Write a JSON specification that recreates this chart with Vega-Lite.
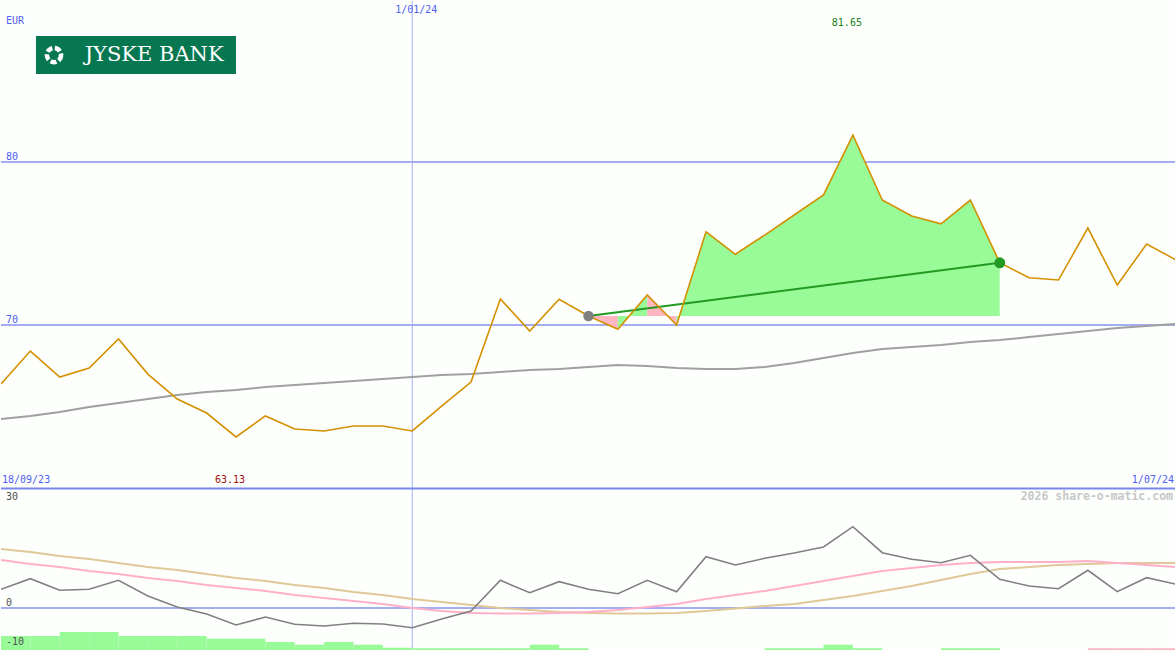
{
  "$schema": "https://vega.github.io/schema/vega-lite/v6.json",
  "background": "#fcfffc",
  "padding": 0,
  "spacing": 0,
  "bounds": "flush",
  "config": {"view": {"stroke": null}, "axis": {"disable": true}, "legend": {"disable": true}},
  "datasets": {
    "weekly": [
      {"d": "2023-09-25", "price": 66.38, "ma": 64.23, "osc": 4.79, "sig": 12.31, "slow": 15.13},
      {"d": "2023-10-02", "price": 68.40, "ma": 64.42, "osc": 7.51, "sig": 11.28, "slow": 14.36},
      {"d": "2023-10-09", "price": 66.81, "ma": 64.66, "osc": 4.54, "sig": 10.51, "slow": 13.33},
      {"d": "2023-10-16", "price": 67.36, "ma": 64.97, "osc": 4.79, "sig": 9.49, "slow": 12.56},
      {"d": "2023-10-23", "price": 69.14, "ma": 65.21, "osc": 7.10, "sig": 8.72, "slow": 11.54},
      {"d": "2023-10-30", "price": 66.99, "ma": 65.46, "osc": 3.08, "sig": 7.69, "slow": 10.51},
      {"d": "2023-11-06", "price": 65.46, "ma": 65.71, "osc": 0.26, "sig": 6.92, "slow": 9.74},
      {"d": "2023-11-13", "price": 64.60, "ma": 65.89, "osc": -1.54, "sig": 5.90, "slow": 8.72},
      {"d": "2023-11-20", "price": 63.13, "ma": 66.01, "osc": -4.36, "sig": 5.13, "slow": 7.69},
      {"d": "2023-11-27", "price": 64.42, "ma": 66.20, "osc": -2.31, "sig": 4.36, "slow": 6.92},
      {"d": "2023-12-04", "price": 63.62, "ma": 66.32, "osc": -4.18, "sig": 3.33, "slow": 5.90},
      {"d": "2023-12-11", "price": 63.50, "ma": 66.44, "osc": -4.62, "sig": 2.56, "slow": 5.13},
      {"d": "2023-12-18", "price": 63.80, "ma": 66.56, "osc": -3.92, "sig": 1.79, "slow": 4.10},
      {"d": "2023-12-25", "price": 63.80, "ma": 66.69, "osc": -4.10, "sig": 1.03, "slow": 3.33},
      {"d": "2024-01-01", "price": 63.50, "ma": 66.81, "osc": -5.05, "sig": 0.00, "slow": 2.31},
      {"d": "2024-01-08", "price": 65.03, "ma": 66.93, "osc": -2.82, "sig": -0.77, "slow": 1.54},
      {"d": "2024-01-15", "price": 66.50, "ma": 66.99, "osc": -0.77, "sig": -1.28, "slow": 0.77},
      {"d": "2024-01-22", "price": 71.60, "ma": 67.12, "osc": 7.10, "sig": -1.41, "slow": 0.00},
      {"d": "2024-01-29", "price": 69.63, "ma": 67.24, "osc": 3.92, "sig": -1.41, "slow": -0.51},
      {"d": "2024-02-05", "price": 71.58, "ma": 67.30, "osc": 6.74, "sig": -1.28, "slow": -1.03},
      {"d": "2024-02-12", "price": 70.55, "ma": 67.42, "osc": 4.79, "sig": -1.03, "slow": -1.28},
      {"d": "2024-02-19", "price": 69.74, "ma": 67.55, "osc": 3.67, "sig": -0.51, "slow": -1.41},
      {"d": "2024-02-26", "price": 71.84, "ma": 67.48, "osc": 7.10, "sig": 0.26, "slow": -1.41},
      {"d": "2024-03-04", "price": 70.00, "ma": 67.36, "osc": 4.18, "sig": 1.03, "slow": -1.28},
      {"d": "2024-03-11", "price": 75.72, "ma": 67.30, "osc": 13.15, "sig": 2.31, "slow": -0.77},
      {"d": "2024-03-18", "price": 74.34, "ma": 67.30, "osc": 11.03, "sig": 3.33, "slow": -0.13},
      {"d": "2024-03-25", "price": 75.52, "ma": 67.42, "osc": 12.74, "sig": 4.36, "slow": 0.51},
      {"d": "2024-04-01", "price": 76.75, "ma": 67.67, "osc": 14.10, "sig": 5.64, "slow": 1.03},
      {"d": "2024-04-08", "price": 77.98, "ma": 67.98, "osc": 15.64, "sig": 6.92, "slow": 2.05},
      {"d": "2024-04-15", "price": 81.65, "ma": 68.28, "osc": 20.85, "sig": 8.21, "slow": 3.08},
      {"d": "2024-04-22", "price": 77.67, "ma": 68.53, "osc": 14.18, "sig": 9.49, "slow": 4.36},
      {"d": "2024-04-29", "price": 76.69, "ma": 68.65, "osc": 12.49, "sig": 10.26, "slow": 5.64},
      {"d": "2024-05-06", "price": 76.21, "ma": 68.77, "osc": 11.62, "sig": 11.03, "slow": 7.18},
      {"d": "2024-05-13", "price": 77.67, "ma": 68.96, "osc": 13.51, "sig": 11.54, "slow": 8.72},
      {"d": "2024-05-20", "price": 73.82, "ma": 69.08, "osc": 7.36, "sig": 11.79, "slow": 10.00},
      {"d": "2024-05-27", "price": 72.90, "ma": 69.26, "osc": 5.64, "sig": 11.79, "slow": 10.51},
      {"d": "2024-06-03", "price": 72.76, "ma": 69.45, "osc": 4.95, "sig": 11.79, "slow": 11.03},
      {"d": "2024-06-10", "price": 75.95, "ma": 69.63, "osc": 9.67, "sig": 12.05, "slow": 11.28},
      {"d": "2024-06-17", "price": 72.45, "ma": 69.82, "osc": 4.18, "sig": 11.54, "slow": 11.54},
      {"d": "2024-06-24", "price": 74.97, "ma": 69.94, "osc": 7.77, "sig": 11.03, "slow": 11.54},
      {"d": "2024-07-01", "price": 73.99, "ma": 70.06, "osc": 6.08, "sig": 10.51, "slow": 11.54}
    ],
    "fill": [
      {"seg": "s1", "c": "down", "d": "2024-02-12", "price": 70.55},
      {"seg": "s1", "c": "down", "d": "2024-02-19", "price": 69.74},
      {"seg": "s2", "c": "up", "d": "2024-02-19", "price": 69.74},
      {"seg": "s2", "c": "up", "d": "2024-02-26", "price": 71.84},
      {"seg": "s3", "c": "down", "d": "2024-02-26", "price": 71.84},
      {"seg": "s3", "c": "down", "d": "2024-03-04", "price": 70.00},
      {"seg": "s4", "c": "up", "d": "2024-03-04", "price": 70.00},
      {"seg": "s4", "c": "up", "d": "2024-03-11", "price": 75.72},
      {"seg": "s4", "c": "up", "d": "2024-03-18", "price": 74.34},
      {"seg": "s4", "c": "up", "d": "2024-03-25", "price": 75.52},
      {"seg": "s4", "c": "up", "d": "2024-04-01", "price": 76.75},
      {"seg": "s4", "c": "up", "d": "2024-04-08", "price": 77.98},
      {"seg": "s4", "c": "up", "d": "2024-04-15", "price": 81.65},
      {"seg": "s4", "c": "up", "d": "2024-04-22", "price": 77.67},
      {"seg": "s4", "c": "up", "d": "2024-04-29", "price": 76.69},
      {"seg": "s4", "c": "up", "d": "2024-05-06", "price": 76.21},
      {"seg": "s4", "c": "up", "d": "2024-05-13", "price": 77.67},
      {"seg": "s4", "c": "up", "d": "2024-05-20", "price": 73.82}
    ],
    "trend": [
      {"d": "2024-02-12", "price": 70.55, "kind": "start"},
      {"d": "2024-05-20", "price": 73.82, "kind": "end"}
    ],
    "hist": [
      {"d": "2023-09-25", "d2": "2023-10-02", "h": -7.18, "c": "up"},
      {"d": "2023-10-02", "d2": "2023-10-09", "h": -7.18, "c": "up"},
      {"d": "2023-10-09", "d2": "2023-10-16", "h": -6.15, "c": "up"},
      {"d": "2023-10-16", "d2": "2023-10-23", "h": -6.15, "c": "up"},
      {"d": "2023-10-23", "d2": "2023-10-30", "h": -7.18, "c": "up"},
      {"d": "2023-10-30", "d2": "2023-11-06", "h": -7.18, "c": "up"},
      {"d": "2023-11-06", "d2": "2023-11-13", "h": -7.18, "c": "up"},
      {"d": "2023-11-13", "d2": "2023-11-20", "h": -7.87, "c": "up"},
      {"d": "2023-11-20", "d2": "2023-11-27", "h": -7.87, "c": "up"},
      {"d": "2023-11-27", "d2": "2023-12-04", "h": -8.72, "c": "up"},
      {"d": "2023-12-04", "d2": "2023-12-11", "h": -9.41, "c": "up"},
      {"d": "2023-12-11", "d2": "2023-12-18", "h": -8.72, "c": "up"},
      {"d": "2023-12-18", "d2": "2023-12-25", "h": -9.41, "c": "up"},
      {"d": "2023-12-25", "d2": "2024-01-01", "h": -10.2, "c": "up"},
      {"d": "2024-01-01", "d2": "2024-01-08", "h": -10.33, "c": "up"},
      {"d": "2024-01-08", "d2": "2024-01-15", "h": -10.33, "c": "up"},
      {"d": "2024-01-15", "d2": "2024-01-22", "h": -10.33, "c": "up"},
      {"d": "2024-01-22", "d2": "2024-01-29", "h": -10.33, "c": "up"},
      {"d": "2024-01-29", "d2": "2024-02-05", "h": -9.41, "c": "up"},
      {"d": "2024-02-05", "d2": "2024-02-12", "h": -10.33, "c": "up"},
      {"d": "2024-03-25", "d2": "2024-04-01", "h": -10.33, "c": "up"},
      {"d": "2024-04-01", "d2": "2024-04-08", "h": -10.33, "c": "up"},
      {"d": "2024-04-08", "d2": "2024-04-15", "h": -9.41, "c": "up"},
      {"d": "2024-04-15", "d2": "2024-04-22", "h": -10.33, "c": "up"},
      {"d": "2024-05-06", "d2": "2024-05-13", "h": -10.33, "c": "up"},
      {"d": "2024-05-13", "d2": "2024-05-20", "h": -10.33, "c": "up"},
      {"d": "2024-06-10", "d2": "2024-06-17", "h": -10.33, "c": "down"},
      {"d": "2024-06-17", "d2": "2024-06-24", "h": -10.33, "c": "down"},
      {"d": "2024-06-24", "d2": "2024-07-01", "h": -10.33, "c": "down"}
    ]
  },
  "vconcat": [
    {
      "width": 1175,
      "height": 487,
      "layer": [
        {"data": {"values": [{}]}, "mark": {"type": "rule", "color": "#a4acf2", "strokeWidth": 2},
         "encoding": {"y": {"datum": 80, "type": "quantitative", "scale": {"domain": [60, 89.88], "nice": false, "zero": false}}}},
        {"data": {"values": [{}]}, "mark": {"type": "rule", "color": "#a4acf2", "strokeWidth": 2},
         "encoding": {"y": {"datum": 70, "type": "quantitative", "scale": {"domain": [60, 89.88], "nice": false, "zero": false}}}},
        {"data": {"values": [{}]}, "mark": {"type": "rule", "color": "#a8b0f8", "strokeWidth": 1},
         "encoding": {"x": {"datum": {"year": 2024, "month": 1, "date": 1, "utc": true}, "type": "temporal", "scale": {"domain": [{"year": 2023, "month": 9, "date": 25, "utc": true}, {"year": 2024, "month": 7, "date": 1, "utc": true}], "nice": false}}}},
        {"data": {"name": "weekly"}, "mark": {"type": "line", "color": "#a0a0a0", "strokeWidth": 2, "clip": true},
         "encoding": {
           "x": {"field": "d", "type": "temporal", "scale": {"domain": [{"year": 2023, "month": 9, "date": 25, "utc": true}, {"year": 2024, "month": 7, "date": 1, "utc": true}], "nice": false}},
           "y": {"field": "ma", "type": "quantitative", "scale": {"domain": [60, 89.88], "nice": false, "zero": false}}}},
        {"data": {"name": "fill"}, "mark": {"type": "area", "opacity": 1},
         "encoding": {
           "x": {"field": "d", "type": "temporal"},
           "y": {"field": "price", "type": "quantitative"},
           "y2": {"datum": 70.55},
           "detail": {"field": "seg"},
           "color": {"field": "c", "type": "nominal", "scale": {"domain": ["up", "down"], "range": ["#98fb98", "#ffb6c1"]}, "legend": null}}},
        {"data": {"name": "trend"}, "mark": {"type": "line", "color": "#229a22", "strokeWidth": 2},
         "encoding": {
           "x": {"field": "d", "type": "temporal"},
           "y": {"field": "price", "type": "quantitative"}}},
        {"data": {"name": "weekly"}, "mark": {"type": "line", "color": "#d49000", "strokeWidth": 1.6, "clip": true},
         "encoding": {
           "x": {"field": "d", "type": "temporal"},
           "y": {"field": "price", "type": "quantitative"}}},
        {"data": {"name": "trend"}, "transform": [{"filter": "datum.kind === 'start'"}], "mark": {"type": "point", "filled": true, "size": 110, "opacity": 1, "color": "#808080"},
         "encoding": {
           "x": {"field": "d", "type": "temporal"},
           "y": {"field": "price", "type": "quantitative"}}},
        {"data": {"name": "trend"}, "transform": [{"filter": "datum.kind === 'end'"}], "mark": {"type": "point", "filled": true, "size": 120, "opacity": 1, "color": "#229a22"},
         "encoding": {
           "x": {"field": "d", "type": "temporal"},
           "y": {"field": "price", "type": "quantitative"}}},
        {"data": {"values": [{}]}, "mark": {"type": "rect", "color": "#077752"},
         "encoding": {
           "x": {"datum": {"year": 2023, "month": 10, "date": 3, "hours": 8, "utc": true}, "type": "temporal"},
           "x2": {"datum": {"year": 2023, "month": 11, "date": 20, "utc": true}},
           "y": {"datum": 87.73, "type": "quantitative"},
           "y2": {"datum": 85.40}}},
        {"data": {"values": [{}]}, "mark": {"type": "point", "shape": "circle", "filled": false, "stroke": "white", "strokeWidth": 4.5, "size": 200, "strokeDash": [6, 2.5], "opacity": 1},
         "encoding": {
           "x": {"datum": {"year": 2023, "month": 10, "date": 7, "hours": 15, "utc": true}, "type": "temporal"},
           "y": {"datum": 86.56, "type": "quantitative"}}},
        {"data": {"values": [{}]}, "mark": {"type": "text", "text": "JYSKE BANK", "font": "DejaVu Serif", "fontSize": 21, "color": "white", "align": "center", "baseline": "middle"},
         "encoding": {
           "x": {"datum": {"year": 2023, "month": 10, "date": 31, "hours": 12, "utc": true}, "type": "temporal"},
           "y": {"datum": 86.56, "type": "quantitative"}}},
        {"data": {"values": [{}]}, "mark": {"type": "text", "text": "EUR", "font": "DejaVu Sans Mono", "fontSize": 10, "color": "#5060f0", "align": "left", "baseline": "middle", "dx": 5},
         "encoding": {
           "x": {"datum": {"year": 2023, "month": 9, "date": 25, "utc": true}, "type": "temporal"},
           "y": {"datum": 88.65, "type": "quantitative"}}},
        {"data": {"values": [{}]}, "mark": {"type": "text", "text": "80", "font": "DejaVu Sans Mono", "fontSize": 10, "color": "#5060f0", "align": "left", "baseline": "middle", "dx": 5},
         "encoding": {
           "x": {"datum": {"year": 2023, "month": 9, "date": 25, "utc": true}, "type": "temporal"},
           "y": {"datum": 80.31, "type": "quantitative"}}},
        {"data": {"values": [{}]}, "mark": {"type": "text", "text": "70", "font": "DejaVu Sans Mono", "fontSize": 10, "color": "#5060f0", "align": "left", "baseline": "middle", "dx": 5},
         "encoding": {
           "x": {"datum": {"year": 2023, "month": 9, "date": 25, "utc": true}, "type": "temporal"},
           "y": {"datum": 70.31, "type": "quantitative"}}},
        {"data": {"values": [{}]}, "mark": {"type": "text", "text": "1/01/24", "font": "DejaVu Sans Mono", "fontSize": 10, "color": "#5060f0", "align": "center", "baseline": "middle", "dx": 4},
         "encoding": {
           "x": {"datum": {"year": 2024, "month": 1, "date": 1, "utc": true}, "type": "temporal"},
           "y": {"datum": 89.33, "type": "quantitative"}}},
        {"data": {"values": [{}]}, "mark": {"type": "text", "text": "81.65", "font": "DejaVu Sans Mono", "fontSize": 10, "color": "#208020", "align": "center", "baseline": "middle", "dx": -6},
         "encoding": {
           "x": {"datum": {"year": 2024, "month": 4, "date": 15, "utc": true}, "type": "temporal"},
           "y": {"datum": 88.53, "type": "quantitative"}}},
        {"data": {"values": [{}]}, "mark": {"type": "text", "text": "18/09/23", "font": "DejaVu Sans Mono", "fontSize": 10, "color": "#5060f0", "align": "left", "baseline": "middle", "dx": 1},
         "encoding": {
           "x": {"datum": {"year": 2023, "month": 9, "date": 25, "utc": true}, "type": "temporal"},
           "y": {"datum": 60.49, "type": "quantitative"}}},
        {"data": {"values": [{}]}, "mark": {"type": "text", "text": "63.13", "font": "DejaVu Sans Mono", "fontSize": 10, "color": "#a01010", "align": "center", "baseline": "middle", "dx": -6},
         "encoding": {
           "x": {"datum": {"year": 2023, "month": 11, "date": 20, "utc": true}, "type": "temporal"},
           "y": {"datum": 60.49, "type": "quantitative"}}},
        {"data": {"values": [{}]}, "mark": {"type": "text", "text": "1/07/24", "font": "DejaVu Sans Mono", "fontSize": 10, "color": "#5060f0", "align": "right", "baseline": "middle", "dx": -2},
         "encoding": {
           "x": {"datum": {"year": 2024, "month": 7, "date": 1, "utc": true}, "type": "temporal"},
           "y": {"datum": 60.49, "type": "quantitative"}}}
      ]
    },
    {
      "width": 1175,
      "height": 163,
      "layer": [
        {"data": {"values": [{}]}, "mark": {"type": "rule", "color": "#a4acf2", "strokeWidth": 2},
         "encoding": {"y": {"datum": 0, "type": "quantitative", "scale": {"domain": [-11.03, 30.77], "nice": false, "zero": false}}}},
        {"data": {"values": [{}]}, "mark": {"type": "rule", "color": "#a8b0f8", "strokeWidth": 1},
         "encoding": {"x": {"datum": {"year": 2024, "month": 1, "date": 1, "utc": true}, "type": "temporal", "scale": {"domain": [{"year": 2023, "month": 9, "date": 25, "utc": true}, {"year": 2024, "month": 7, "date": 1, "utc": true}], "nice": false}}}},
        {"data": {"values": [{}]}, "mark": {"type": "rule", "color": "#7888ea", "strokeWidth": 2},
         "encoding": {"y": {"datum": 30.64, "type": "quantitative"}}},
        {"data": {"name": "hist"}, "mark": {"type": "rect"},
         "encoding": {
           "x": {"field": "d", "type": "temporal"},
           "x2": {"field": "d2"},
           "y": {"field": "h", "type": "quantitative"},
           "y2": {"datum": -11.03},
           "color": {"field": "c", "type": "nominal", "scale": {"domain": ["up", "down"], "range": ["#98fb98", "#ffb6c1"]}, "legend": null}}},
        {"data": {"name": "weekly"}, "mark": {"type": "line", "color": "#e0c898", "strokeWidth": 2, "clip": true},
         "encoding": {
           "x": {"field": "d", "type": "temporal"},
           "y": {"field": "slow", "type": "quantitative"}}},
        {"data": {"name": "weekly"}, "mark": {"type": "line", "color": "#ffb0c8", "strokeWidth": 2, "clip": true},
         "encoding": {
           "x": {"field": "d", "type": "temporal"},
           "y": {"field": "sig", "type": "quantitative"}}},
        {"data": {"name": "weekly"}, "mark": {"type": "line", "color": "#808080", "strokeWidth": 1.6, "clip": true},
         "encoding": {
           "x": {"field": "d", "type": "temporal"},
           "y": {"field": "osc", "type": "quantitative"}}},
        {"data": {"values": [{}]}, "mark": {"type": "text", "text": "2026 share-o-matic.com", "font": "DejaVu Sans Mono", "fontSize": 11.5, "fontWeight": "bold", "color": "#c8c8c8", "align": "right", "baseline": "middle", "dx": -3},
         "encoding": {
           "x": {"datum": {"year": 2024, "month": 7, "date": 1, "utc": true}, "type": "temporal"},
           "y": {"datum": 28.46, "type": "quantitative"}}},
        {"data": {"values": [{}]}, "mark": {"type": "text", "text": "30", "font": "DejaVu Sans Mono", "fontSize": 10, "color": "#505050", "align": "left", "baseline": "middle", "dx": 5},
         "encoding": {
           "x": {"datum": {"year": 2023, "month": 9, "date": 25, "utc": true}, "type": "temporal"},
           "y": {"datum": 28.46, "type": "quantitative"}}},
        {"data": {"values": [{}]}, "mark": {"type": "text", "text": "0", "font": "DejaVu Sans Mono", "fontSize": 10, "color": "#505050", "align": "left", "baseline": "middle", "dx": 5},
         "encoding": {
           "x": {"datum": {"year": 2023, "month": 9, "date": 25, "utc": true}, "type": "temporal"},
           "y": {"datum": 1.28, "type": "quantitative"}}},
        {"data": {"values": [{}]}, "mark": {"type": "text", "text": "-10", "font": "DejaVu Sans Mono", "fontSize": 10, "color": "#505050", "align": "left", "baseline": "middle", "dx": 5},
         "encoding": {
           "x": {"datum": {"year": 2023, "month": 9, "date": 25, "utc": true}, "type": "temporal"},
           "y": {"datum": -8.72, "type": "quantitative"}}}
      ]
    }
  ]
}
